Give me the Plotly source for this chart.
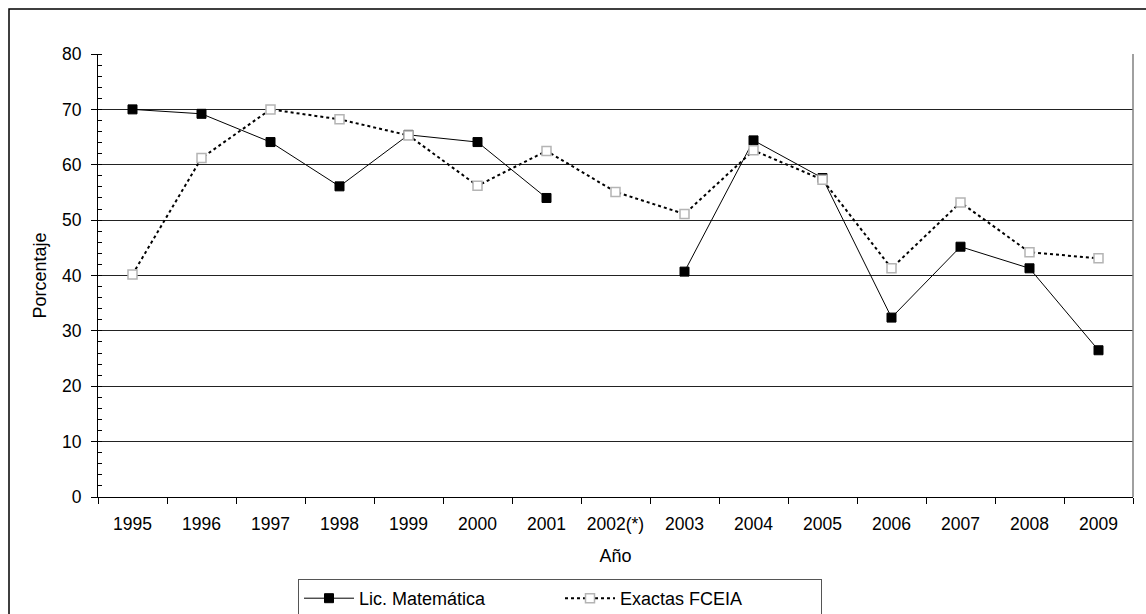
import plotly.graph_objects as go

years = ["1995", "1996", "1997", "1998", "1999", "2000", "2001", "2002(*)",
         "2003", "2004", "2005", "2006", "2007", "2008", "2009"]
lic_matematica = [70.0, 69.2, 64.1, 56.1, 65.4, 64.1, 54.0, None,
                  40.7, 64.4, 57.6, 32.4, 45.2, 41.3, 26.5]
exactas_fceia = [40.2, 61.2, 70.0, 68.2, 65.3, 56.2, 62.5, 55.1,
                 51.1, 62.6, 57.3, 41.3, 53.2, 44.2, 43.1]
y_ticks = [0, 10, 20, 30, 40, 50, 60, 70, 80]

W, H = 1146, 614
ML, MR, MT, MB = 98, 13, 54, 117
pw = W - ML - MR
ph = H - MT - MB

def px_x(p):
    return (p - ML) / pw

def px_y(p):
    return (H - MB - p) / ph

fig = go.Figure()
fig.add_trace(go.Scatter(
    x=years, y=lic_matematica, name="Lic. Matemática",
    mode="lines+markers", connectgaps=False,
    line=dict(color="black", width=1),
    marker=dict(symbol="square", size=9, color="black",
                line=dict(color="black", width=1)),
))
fig.add_trace(go.Scatter(
    x=years, y=exactas_fceia, name="Exactas FCEIA",
    mode="lines+markers",
    line=dict(color="black", width=2, dash="dot"),
    marker=dict(symbol="square", size=9, color="white",
                line=dict(color="#b4b4b4", width=1.5)),
))

font_family = "Liberation Sans, Arial, sans-serif"

fig.update_layout(
    width=W, height=H,
    margin=dict(l=ML, r=MR, t=MT, b=MB, autoexpand=False),
    paper_bgcolor="white", plot_bgcolor="white",
    font=dict(family=font_family, size=18, color="black"),
    showlegend=True,
    legend=dict(
        orientation="h", x=px_x(560), xanchor="center",
        y=px_y(579), yanchor="top",
        bordercolor="#555555", borderwidth=1,
        font=dict(size=18), bgcolor="white",
        itemwidth=50, entrywidthmode="pixels", entrywidth=196,
    ),
    xaxis=dict(
        type="category", range=[-0.5, 14.5],
        tickson="boundaries", ticks="outside", ticklen=6,
        tickcolor="black", showgrid=False,
        showline=True, linecolor="black", linewidth=1,
        tickfont=dict(size=17.5), ticklabelstandoff=11,
        title=dict(text="Año", font=dict(size=18), standoff=16),
    ),
    yaxis=dict(
        range=[0, 80], tickvals=y_ticks, ticks="outside", ticklen=6,
        tickcolor="black", showline=True, linecolor="black", linewidth=1,
        showgrid=True, gridcolor="#222222", gridwidth=1,
        zeroline=False,
        minor=dict(dtick=2, ticks="inside", ticklen=4, tickcolor="black",
                   showgrid=False),
        tickfont=dict(size=17.5), ticklabelstandoff=6,
        title=dict(text="Porcentaje", font=dict(size=18), standoff=10),
    ),
    shapes=[
        dict(type="rect", xref="paper", yref="paper",
             x0=px_x(9), x1=px_x(1200), y0=px_y(700), y1=px_y(9),
             line=dict(color="black", width=1.5), fillcolor="rgba(0,0,0,0)"),
        dict(type="line", xref="paper", yref="paper",
             x0=1, x1=1, y0=0, y1=1,
             line=dict(color="#808080", width=1.5)),
    ],
)

fig.write_html("out.html", config={"displayModeBar": False},
               post_script="document.body.style.margin='0';document.body.style.overflow='hidden';")
